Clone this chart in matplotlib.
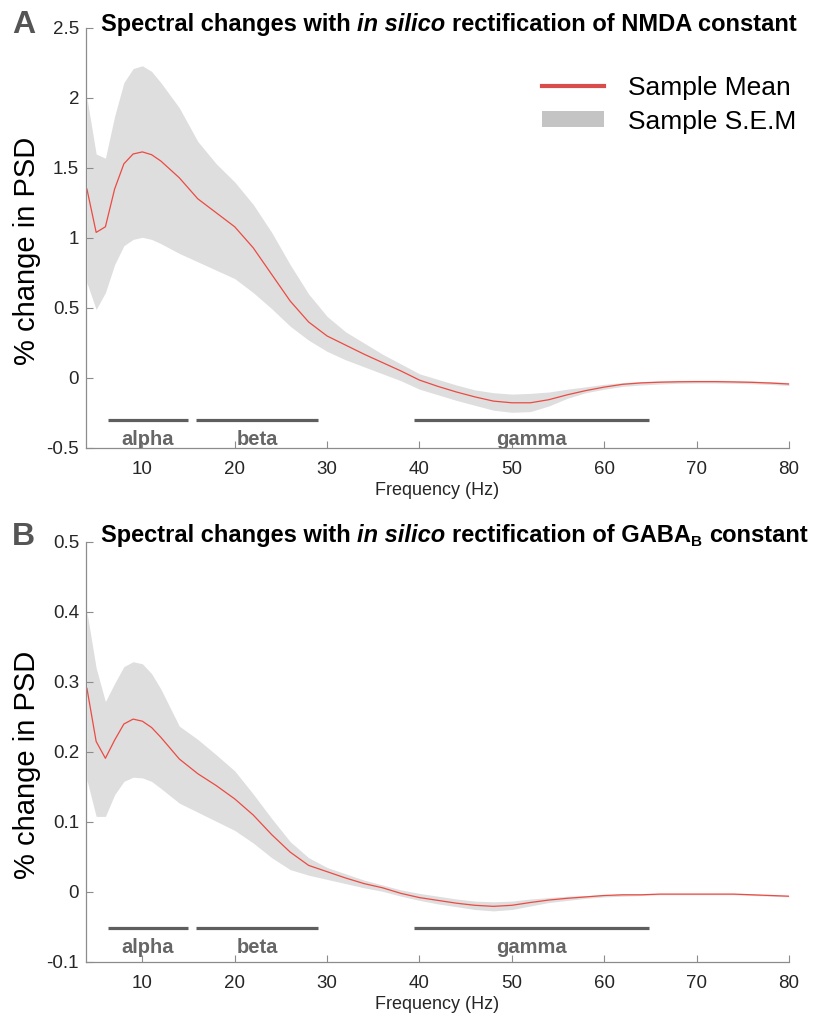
import matplotlib
matplotlib.use("Agg")
import matplotlib.pyplot as plt
from matplotlib.lines import Line2D
from matplotlib.patches import Patch

plt.rcParams['font.family'] = ['Liberation Sans', 'DejaVu Sans']

# === Data ===
freq = [4, 5, 6, 7, 8, 9, 10, 11, 12, 14, 16, 18, 20, 22, 24, 26, 28, 30, 32, 34, 36, 38,
        40, 42, 44, 46, 48, 50, 52, 54, 56, 58, 60, 62, 64, 66, 68, 70, 72, 74, 76, 78, 80]

nmda_mean = [1.35, 1.04, 1.08, 1.35, 1.53, 1.60, 1.615, 1.595, 1.55,
             1.43, 1.28, 1.18, 1.08, 0.93, 0.74, 0.55, 0.40, 0.30, 0.235, 0.17, 0.11, 0.05,
             -0.015, -0.06, -0.10, -0.135, -0.165, -0.177, -0.177, -0.155, -0.12, -0.09, -0.065,
             -0.045, -0.035, -0.03, -0.027, -0.026, -0.026, -0.028, -0.031, -0.036, -0.043]
nmda_upper = [2.0, 1.6, 1.57, 1.87, 2.11, 2.21, 2.23, 2.19, 2.11,
              1.93, 1.69, 1.53, 1.40, 1.24, 1.04, 0.81, 0.60, 0.44, 0.33, 0.25, 0.17, 0.10,
              0.03, -0.01, -0.05, -0.085, -0.105, -0.115, -0.11, -0.10, -0.08, -0.063, -0.045,
              -0.033, -0.025, -0.02, -0.017, -0.016, -0.016, -0.018, -0.021, -0.026, -0.032]
nmda_lower = [0.68, 0.49, 0.61, 0.81, 0.945, 0.99, 1.005, 0.99, 0.96,
              0.89, 0.83, 0.77, 0.71, 0.61, 0.495, 0.37, 0.27, 0.19, 0.13, 0.08, 0.03, -0.02,
              -0.08, -0.12, -0.16, -0.195, -0.23, -0.245, -0.24, -0.20, -0.145, -0.105, -0.08,
              -0.06, -0.05, -0.043, -0.038, -0.036, -0.036, -0.038, -0.041, -0.046, -0.054]

gabab_mean = [0.291, 0.215, 0.191, 0.217, 0.240, 0.247, 0.244, 0.235, 0.221,
              0.19, 0.169, 0.152, 0.133, 0.11, 0.082, 0.057, 0.038, 0.029, 0.02, 0.012, 0.006, -0.002,
              -0.008, -0.012, -0.016, -0.019, -0.0205, -0.019, -0.015, -0.0115, -0.009, -0.007, -0.005,
              -0.004, -0.004, -0.003, -0.003, -0.003, -0.003, -0.003, -0.004, -0.005, -0.006]
gabab_upper = [0.40, 0.32, 0.272, 0.298, 0.322, 0.329, 0.326, 0.312, 0.29,
               0.237, 0.218, 0.196, 0.173, 0.14, 0.105, 0.072, 0.049, 0.035, 0.026, 0.017, 0.01, 0.003,
               -0.002, -0.006, -0.01, -0.013, -0.014, -0.013, -0.01, -0.008, -0.006, -0.005, -0.004,
               -0.003, -0.003, -0.002, -0.002, -0.002, -0.002, -0.002, -0.003, -0.004, -0.005]
gabab_lower = [0.16, 0.108, 0.108, 0.139, 0.158, 0.164, 0.163, 0.158, 0.148,
               0.127, 0.114, 0.101, 0.088, 0.07, 0.049, 0.032, 0.024, 0.018, 0.012, 0.006, 0.001, -0.006,
               -0.012, -0.017, -0.021, -0.025, -0.027, -0.025, -0.02, -0.015, -0.012, -0.009, -0.007,
               -0.006, -0.005, -0.004, -0.004, -0.004, -0.004, -0.004, -0.005, -0.006, -0.007]

band_names = ["alpha", "beta", "gamma"]
band_start = [6.3, 15.8, 39.4]
band_end = [14.9, 29.0, 64.8]

# === Style ===
MEAN_COLOR = '#ec4a42'
SEM_COLOR = '#dedede'
AXIS_COLOR = '#8c8c8c'
BAND_COLOR = '#5e5e5e'
TICK_TEXT = '#262626'
TITLE_SIZE = 17
SPACE = 4.8  # points, gap between title pieces

fig = plt.figure(figsize=(8.16, 10.16), dpi=100)
W, H = 816.0, 1016.0

panels = [
    dict(letter="A", mean=nmda_mean, upper=nmda_upper, lower=nmda_lower,
         rect=[86 / W, 1 - 448 / H, 703 / W, 420 / H], ylim=(-0.5, 2.5),
         yticks=[-0.5, 0, 0.5, 1, 1.5, 2, 2.5], yticklabels=["-0.5", "0", "0.5", "1", "1.5", "2", "2.5"],
         band_y=-0.30, label_y=-0.478, what="NMDA", title_y=31, letter_y=33),
    dict(letter="B", mean=gabab_mean, upper=gabab_upper, lower=gabab_lower,
         rect=[86 / W, 1 - 962 / H, 703 / W, 420 / H], ylim=(-0.1, 0.5),
         yticks=[-0.1, 0, 0.1, 0.2, 0.3, 0.4, 0.5], yticklabels=["-0.1", "0", "0.1", "0.2", "0.3", "0.4", "0.5"],
         band_y=-0.0514, label_y=-0.0867, what="GABA", title_y=542, letter_y=545),
]

for i, p in enumerate(panels):
    ax = fig.add_axes(p["rect"])
    ax.fill_between(freq, p["lower"], p["upper"], color=SEM_COLOR, linewidth=0)
    ax.plot(freq, p["mean"], color=MEAN_COLOR, lw=0.9)

    for name, s, e in zip(band_names, band_start, band_end):
        ax.plot([s, e], [p["band_y"], p["band_y"]], color=BAND_COLOR, lw=2.3, solid_capstyle='butt')
        ax.text((s + e) / 2, p["label_y"], name, ha='center', va='baseline', fontsize=14.5,
                fontweight='bold', color='#666666', clip_on=True)

    ax.set_xlim(3.9, 80)
    ax.set_ylim(*p["ylim"])
    ax.set_xticks([10, 20, 30, 40, 50, 60, 70, 80])
    ax.set_yticks(p["yticks"])
    ax.set_yticklabels(p["yticklabels"])
    ax.tick_params(direction='in', length=5, width=0.8, color=AXIS_COLOR,
                   labelsize=13.5, labelcolor=TICK_TEXT)
    ax.tick_params(axis='x', pad=9)
    ax.tick_params(axis='y', pad=5)
    for side in ['top', 'right']:
        ax.spines[side].set_visible(False)
    for side in ['left', 'bottom']:
        ax.spines[side].set_color(AXIS_COLOR)
        ax.spines[side].set_linewidth(0.9)
    ax.set_xlabel("Frequency (Hz)", fontsize=13, color=TICK_TEXT, labelpad=3)

    fig.text(27 / W, p["rect"][1] + p["rect"][3] / 2 - 13 / H, "% change in PSD",
             rotation=90, ha='center', va='center', fontsize=21, color='black')

    # panel letter
    fig.text(12 / W, 1 - p["letter_y"] / H, p["letter"], fontsize=23, fontweight='bold',
             color='#555555', ha='left', va='baseline')

    # title pieces: bold with bold-italic "in silico"
    t1 = fig.text(101 / W, 1 - p["title_y"] / H, "Spectral changes with", fontsize=TITLE_SIZE,
                  fontweight='bold', ha='left', va='baseline')
    t2 = ax.annotate("in silico", xy=(1, 0), xycoords=t1, xytext=(SPACE, 0), textcoords='offset points',
                     fontsize=TITLE_SIZE, fontweight='bold', style='italic', ha='left', va='bottom',
                     annotation_clip=False)
    if p["what"] == "NMDA":
        ax.annotate("rectification of NMDA constant", xy=(1, 0), xycoords=t2, xytext=(SPACE, 0),
                    textcoords='offset points', fontsize=TITLE_SIZE, fontweight='bold', ha='left',
                    va='bottom', annotation_clip=False)
    else:
        t3 = ax.annotate("rectification of GABA", xy=(1, 0), xycoords=t2, xytext=(SPACE, 0),
                         textcoords='offset points', fontsize=TITLE_SIZE, fontweight='bold', ha='left',
                         va='bottom', annotation_clip=False)
        t4 = ax.annotate("B", xy=(1, 0), xycoords=t3, xytext=(0.3, -1.5),
                         textcoords='offset points', fontsize=11, fontweight='bold', ha='left',
                         va='bottom', annotation_clip=False)
        ax.annotate("constant", xy=(1, 0), xycoords=(t4, t3), xytext=(SPACE, 0),
                    textcoords='offset points', fontsize=TITLE_SIZE, fontweight='bold', ha='left',
                    va='bottom', annotation_clip=False)

    if i == 0:
        handles = [Line2D([], [], color='#d94c4c', lw=3),
                   Patch(facecolor='#c4c4c4', edgecolor='none')]
        ax.legend(handles, ["Sample Mean", "Sample S.E.M"], loc='upper left',
                  bbox_to_anchor=(542 / W, 1 - 76 / H), bbox_transform=fig.transFigure,
                  frameon=False, fontsize=19, borderpad=0, borderaxespad=0,
                  handlelength=2.35, handletextpad=0.9, labelspacing=0.36, handleheight=0.55)

fig.savefig("out.png", dpi=100)
